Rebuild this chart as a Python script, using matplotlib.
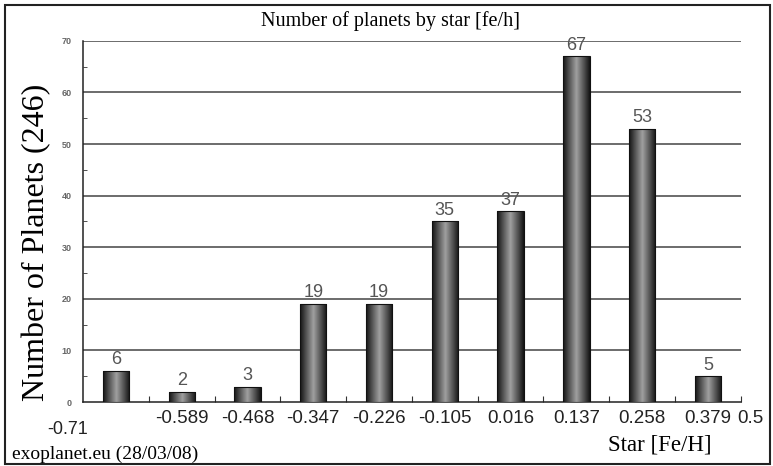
import numpy as np
import matplotlib
matplotlib.use("Agg")
import matplotlib.pyplot as plt
from matplotlib.patches import Rectangle

# planets per host-star metallicity bin
bin_labels = ["-0.71", "-0.589", "-0.468", "-0.347", "-0.226", "-0.105",
              "0.016", "0.137", "0.258", "0.379", "0.5"]
counts = [6, 2, 3, 19, 19, 35, 37, 67, 53, 5]
y_ticks = [0, 10, 20, 30, 40, 50, 60, 70]

SERIF = ["Liberation Serif", "DejaVu Serif"]
SANS = ["Liberation Sans", "DejaVu Sans"]

fig = plt.figure(figsize=(7.73, 4.66), dpi=100)
fig.patch.set_facecolor("white")
ax = fig.add_axes([0.1074, 0.1373, 0.851, 0.775])

x = np.arange(len(counts))
bar_w = 0.40

# cylinder-like shading across each bar
shade = np.concatenate([np.linspace(0.08, 0.62, 40), np.linspace(0.62, 0.08, 40)])
shade = np.tile(shade, (2, 1))
for xi, c in zip(x, counts):
    r = Rectangle((xi - bar_w / 2, 0), bar_w, c, facecolor="none",
                  edgecolor="#111111", lw=0.8, zorder=4)
    ax.add_patch(r)
    im = ax.imshow(shade, cmap="gray", vmin=0, vmax=1, aspect="auto",
                   extent=(xi - bar_w / 2, xi + bar_w / 2, 0, c), zorder=3,
                   interpolation="bilinear")
    im.set_clip_path(r)
    ax.text(xi, c + 0.5, str(c), ha="center", va="bottom", fontsize=13,
            color="#555555", family=SANS, zorder=5)

ax.set_xlim(-0.5, len(counts) - 0.5)
ax.set_ylim(0, 70)

for yv in y_ticks[1:]:
    ax.axhline(yv, color="#444444", lw=1.1, zorder=1)

ax.spines["top"].set_visible(False)
ax.spines["right"].set_visible(False)
ax.spines["left"].set_color("#222222")
ax.spines["bottom"].set_color("#222222")
ax.spines["left"].set_linewidth(1.1)
ax.spines["bottom"].set_linewidth(1.1)

ax.set_yticks(y_ticks)
ax.set_yticklabels([str(v) for v in y_ticks], fontsize=6.5, color="#666666",
                   fontweight="bold", family=SANS)
ax.set_yticks(np.arange(5, 70, 10), minor=True)
ax.tick_params(axis="y", which="major", length=0, pad=8)
ax.tick_params(axis="y", which="minor", direction="in", length=3, color="#333333")

ax.set_xticks(np.arange(0.5, len(counts), 1.0))
ax.set_xticklabels([])
ax.tick_params(axis="x", which="major", direction="in", length=4, color="#333333")

# bin edge labels under the axis
for i, lab in enumerate(bin_labels[1:-1], start=1):
    ax.text(i, -1.5, lab, ha="center", va="top", fontsize=13.5, color="#222222",
            family=SANS)
ax.text(-0.74, -3.6, bin_labels[0], ha="center", va="top", fontsize=13,
        color="#222222", family=SANS, clip_on=False)
ax.text(9.64, -1.5, bin_labels[-1], ha="center", va="top", fontsize=13.5,
        color="#222222", family=SANS, clip_on=False)

fig.text(0.505, 0.955, "Number of planets by star [fe/h]", ha="center",
         va="center", fontsize=14.5, family=SERIF)
fig.text(0.047, 0.48, "Number of Planets (246)", ha="center", va="center",
         rotation=90, fontsize=23, family=SERIF)
fig.text(0.854, 0.045, "Star [Fe/H]", ha="center", va="center",
         fontsize=16.5, family=SERIF)
fig.text(0.016, 0.025, "exoplanet.eu (28/03/08)", ha="left", va="center",
         fontsize=14, family=SERIF)

# frame around the whole chart
fig.add_artist(Rectangle((0.007, 0.004), 0.989, 0.985, transform=fig.transFigure,
                         fill=False, edgecolor="#222222", lw=1.5))

fig.savefig("out.png", dpi=100, facecolor="white")
